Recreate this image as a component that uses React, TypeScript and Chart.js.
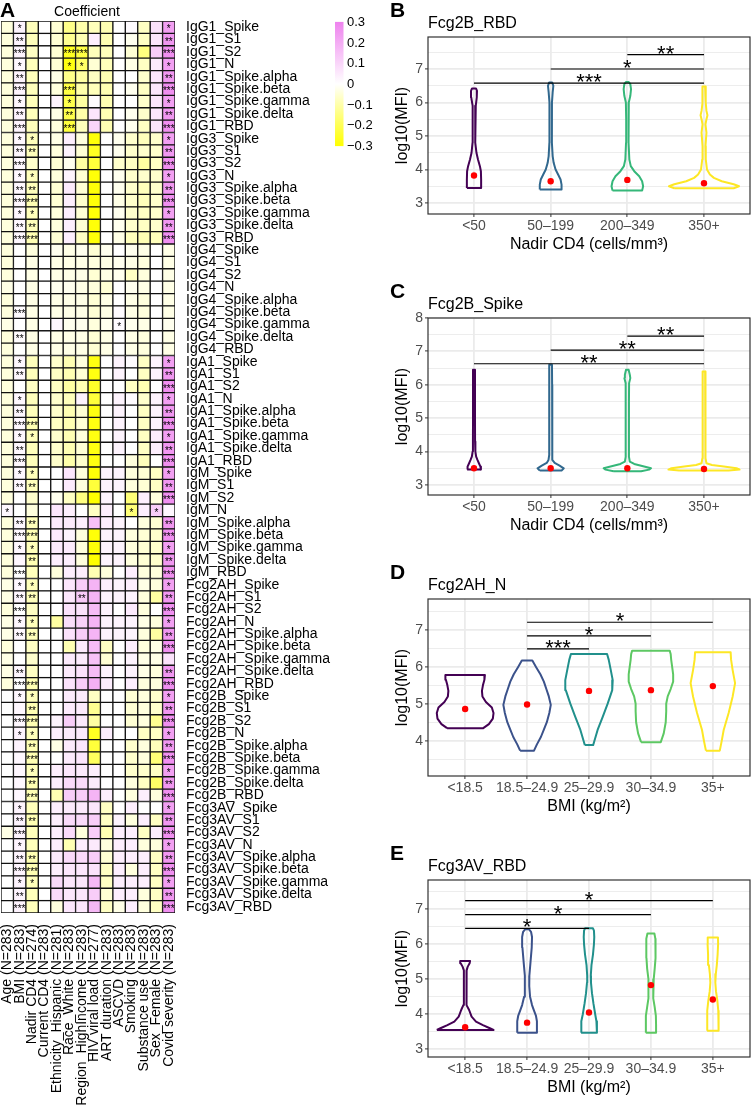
import React, { useEffect, useRef } from "react";
import { Chart, registerables } from "chart.js";
Chart.register(...registerables);

const FONT = "'Liberation Sans', Arial, Helvetica, sans-serif";

// ---------------- Panel A (heatmap) data ----------------
const heatColumns = [
  "Age (N=283)", "BMI (N=283)", "Nadir CD4 (N=274)", "Current CD4 (N=283)",
  "Ethnicity_Hispanic (N=281)", "Race_White (N=283)", "Region_HighIncome (N=283)",
  "HIV viral load (N=277)", "ART duration (N=283)", "ASCVD (N=283)", "Smoking (N=283)",
  "Substance use (N=283)", "Sex_Female (N=283)", "Covid severity (N=283)",
];
const isotypes = ["IgG1", "IgG3", "IgG4", "IgA1", "IgM", "Fcg2AH", "Fcg2B", "Fcg3AV"];
const antigens = ["Spike", "S1", "S2", "N", "Spike.alpha", "Spike.beta", "Spike.gamma", "Spike.delta", "RBD"];

const coefIgG1 = [
  [-0.04, 0.03, -0.08, 0, -0.05, -0.14, -0.1, -0.08, -0.09, 0, 0.01, -0.07, 0.07, 0.23],
  [-0.04, 0.03, -0.08, 0, -0.05, -0.13, -0.09, 0.04, -0.09, 0, -0.02, -0.07, 0.06, 0.25],
  [-0.04, 0.03, -0.07, 0, -0.05, -0.26, -0.22, -0.08, -0.08, 0, -0.05, -0.15, 0.12, 0.27],
  [-0.04, 0.02, -0.08, 0, -0.05, -0.28, -0.18, -0.05, -0.08, 0, -0.03, -0.07, 0.05, 0.23],
  [-0.04, 0.03, -0.08, 0, -0.03, -0.14, -0.11, -0.07, -0.09, 0, 0, -0.06, 0.06, 0.25],
  [-0.04, 0.03, -0.08, 0, -0.04, -0.22, -0.1, -0.08, -0.09, 0, -0.02, -0.07, 0.06, 0.27],
  [-0.04, 0.02, -0.08, 0, 0.03, -0.21, -0.11, 0.01, -0.09, 0, 0, -0.06, 0.06, 0.23],
  [-0.04, 0.03, -0.08, 0, -0.03, -0.21, -0.1, 0.06, -0.09, 0, -0.02, -0.06, 0.06, 0.25],
  [-0.04, 0.03, -0.08, 0, -0.04, -0.23, -0.08, 0.1, -0.09, 0, -0.02, -0.07, 0.06, 0.27],
];
const coefIgG3 = [
  [-0.04, 0.02, -0.08, 0, -0.03, 0.04, -0.04, -0.29, 0, -0.02, -0.06, -0.08, -0.06, 0.23],
  [-0.04, 0.02, -0.08, 0, -0.04, 0.03, -0.05, -0.26, 0, -0.02, -0.06, -0.06, -0.06, 0.25],
  [-0.04, 0.02, -0.06, 0, -0.05, -0.02, -0.11, -0.23, 0, -0.06, -0.07, -0.11, -0.07, 0.27],
  [-0.04, 0.02, -0.08, 0, -0.04, 0.03, -0.05, -0.29, 0, -0.02, -0.06, -0.06, -0.06, 0.23],
  [-0.04, 0.02, -0.08, 0, -0.05, 0.05, -0.05, -0.29, 0, -0.02, -0.06, -0.08, -0.06, 0.25],
  [-0.04, 0.02, -0.09, 0, -0.05, 0.04, -0.06, -0.29, 0, -0.03, -0.06, -0.08, -0.06, 0.27],
  [-0.04, 0.02, -0.08, 0, -0.04, 0.04, -0.05, -0.29, 0, -0.02, -0.06, -0.07, -0.06, 0.23],
  [-0.04, 0.02, -0.08, 0, -0.04, 0.04, -0.05, -0.29, 0, -0.02, -0.06, -0.07, -0.06, 0.25],
  [-0.04, 0.02, -0.09, 0, -0.05, 0.04, -0.07, -0.29, 0, -0.03, -0.08, -0.09, -0.08, 0.27],
];
const coefIgG4 = [
  [-0.04, 0, -0.04, 0, -0.02, -0.03, -0.02, -0.05, -0.02, 0, -0.02, -0.03, 0, -0.03],
  [-0.04, 0, -0.03, 0, -0.03, -0.03, -0.03, -0.04, -0.03, -0.02, -0.03, -0.04, 0, -0.03],
  [-0.04, 0, -0.03, 0, -0.03, -0.03, -0.03, -0.05, -0.03, -0.02, -0.07, -0.04, 0, -0.03],
  [-0.03, 0, -0.03, 0, -0.02, -0.02, -0.03, -0.04, -0.05, 0, -0.02, -0.03, 0, -0.03],
  [-0.04, 0, -0.03, 0, -0.03, -0.03, -0.03, -0.05, -0.03, 0, -0.03, -0.04, 0, -0.03],
  [-0.04, 0.01, -0.03, 0, -0.03, -0.03, -0.03, -0.05, -0.03, 0.01, -0.03, -0.04, 0, -0.03],
  [-0.03, 0, -0.03, 0, 0.02, -0.02, -0.02, -0.04, -0.02, 0.01, -0.02, -0.03, 0, -0.02],
  [-0.04, 0.01, -0.03, 0, -0.03, -0.03, -0.03, -0.05, -0.03, 0, -0.03, -0.04, 0, -0.03],
  [-0.04, 0, -0.03, 0, -0.03, -0.03, -0.03, -0.05, -0.03, 0, -0.03, -0.04, 0, -0.03],
];
const coefIgA1 = [
  [-0.04, 0.02, -0.08, 0, -0.06, -0.09, -0.04, -0.28, 0, 0.03, 0.01, -0.07, 0.03, 0.23],
  [-0.04, 0.02, -0.08, 0, -0.07, -0.09, -0.05, -0.28, 0, 0.03, 0, -0.07, 0.03, 0.25],
  [-0.04, 0, -0.07, 0, -0.07, -0.11, -0.09, -0.25, 0, 0, -0.07, -0.09, 0, 0.27],
  [-0.04, 0.02, -0.08, 0, -0.06, -0.08, 0.03, -0.23, 0, 0.03, 0.01, -0.06, 0.03, 0.23],
  [-0.04, 0.02, -0.08, 0, -0.06, -0.09, -0.05, -0.28, 0, 0.03, 0, -0.07, 0.03, 0.25],
  [-0.04, 0.02, -0.09, 0, -0.07, -0.09, -0.05, -0.28, 0, 0.03, 0, -0.07, 0.03, 0.27],
  [-0.04, 0.02, -0.08, 0, -0.06, -0.09, -0.04, -0.28, 0, 0.03, 0, -0.07, 0.04, 0.23],
  [-0.04, 0.02, -0.08, 0, -0.06, -0.09, -0.05, -0.28, 0, 0.03, 0, -0.07, 0.04, 0.25],
  [-0.04, 0.02, -0.08, 0, -0.06, -0.1, -0.06, -0.28, 0, 0, -0.04, -0.08, 0, 0.27],
];
const coefIgM = [
  [-0.04, 0.02, -0.08, 0, 0, 0.06, -0.04, -0.29, 0.03, 0.03, -0.04, -0.05, -0.07, 0.23],
  [-0.04, 0.02, -0.08, 0, 0, 0.05, -0.04, -0.23, 0.03, 0.03, -0.04, -0.05, -0.07, 0.25],
  [-0.04, 0, -0.06, 0, -0.02, -0.07, -0.15, -0.3, 0.03, 0, -0.16, 0.04, -0.04, 0.27],
  [0.02, 0, -0.04, 0, 0.06, 0.04, 0, -0.07, 0.04, 0, -0.16, 0.04, 0.12, 0.02],
  [-0.04, 0.02, -0.08, 0, 0.05, 0.05, 0.04, 0.15, 0.04, 0.03, 0, -0.04, -0.05, 0.25],
  [-0.04, 0.02, -0.09, 0, 0.05, 0.03, -0.04, -0.29, 0.03, 0.03, -0.04, -0.05, -0.06, 0.27],
  [-0.04, 0.02, -0.08, 0, 0.05, 0.05, -0.04, -0.29, 0.03, 0.03, -0.04, -0.05, -0.06, 0.23],
  [-0.04, 0.02, -0.09, 0, 0.04, 0.04, -0.04, -0.3, 0.03, 0.03, -0.04, -0.05, -0.06, 0.25],
  [-0.04, 0, -0.08, 0, -0.04, 0.04, 0.04, -0.09, -0.04, 0, 0.04, -0.04, -0.04, 0.27],
];
const coefFcg2AH = [
  [-0.03, 0.02, -0.08, 0, 0, 0.06, 0.12, 0.18, 0.04, 0.03, 0.04, -0.03, -0.04, 0.23],
  [-0.03, 0.02, -0.08, 0, 0, 0.06, 0.13, 0.18, 0.03, 0.03, 0.03, -0.04, -0.11, 0.25],
  [-0.04, 0, -0.07, 0, 0, 0.07, 0.07, 0.16, 0.03, 0, 0.05, -0.04, 0, 0.27],
  [-0.03, 0.02, -0.08, 0, -0.11, 0.08, 0.11, 0.18, 0.03, 0.03, 0.03, -0.03, -0.04, 0.23],
  [-0.03, 0.02, -0.08, 0, 0, 0.07, 0.12, 0.18, 0.03, 0.03, 0.03, -0.04, -0.11, 0.25],
  [-0.04, 0, -0.07, 0, 0, -0.09, 0.05, 0.16, -0.07, 0, 0.04, -0.04, -0.03, 0.27],
  [-0.03, 0, -0.06, 0, 0, 0.05, 0.05, 0.15, -0.05, 0, 0.03, -0.03, -0.03, 0.07],
  [-0.03, 0.02, -0.07, 0, 0, 0.05, 0.07, 0.16, 0.03, 0, 0.03, -0.03, -0.04, 0.25],
  [-0.04, 0, -0.09, 0, 0, 0.07, 0.12, 0.19, 0.04, 0, 0.04, -0.04, -0.04, 0.27],
];
const coefFcg2B = [
  [0, 0.02, -0.08, 0, 0, 0.05, 0.05, -0.07, 0, 0, -0.05, -0.04, -0.06, 0.23],
  [0, 0.02, -0.09, 0, 0, 0.05, 0.05, -0.13, 0, 0, -0.05, -0.04, -0.06, 0.25],
  [0, 0.02, -0.09, 0, 0.03, 0.12, 0.05, -0.11, 0, 0, -0.05, -0.04, -0.13, 0.27],
  [0, 0.03, -0.08, 0, 0.04, 0.05, 0.05, -0.26, 0.04, 0, 0, -0.07, -0.07, 0.23],
  [0, 0.03, -0.09, 0, -0.03, 0.05, 0.06, -0.23, 0, 0, -0.06, -0.04, -0.08, 0.25],
  [0, 0.02, -0.09, 0, 0, 0.05, 0.06, -0.19, 0, 0, -0.06, -0.04, -0.16, 0.27],
  [0, 0.02, -0.08, 0, 0.04, 0.06, 0.05, 0.04, 0, 0, -0.06, -0.06, -0.07, 0.23],
  [0, 0.02, -0.09, 0, 0.04, 0.09, 0.09, 0.05, 0, 0, -0.04, -0.07, -0.18, 0.25],
  [0, 0.02, -0.09, 0, -0.09, 0.12, 0.12, 0.18, 0.04, 0, -0.04, 0.04, -0.04, 0.27],
];
const coefFcg3AV = [
  [0, 0.03, -0.08, 0, 0.04, 0.05, 0.05, 0.06, -0.07, 0, 0.04, 0, 0, 0.23],
  [0, 0.03, -0.09, 0, 0.04, 0.09, 0.09, 0.12, -0.07, 0.03, -0.04, 0.04, -0.07, 0.25],
  [-0.03, 0.03, -0.08, 0, 0.04, 0.09, -0.04, 0.12, -0.09, 0.04, 0.04, -0.07, 0.04, 0.27],
  [0, 0.03, -0.08, 0, 0.04, -0.09, 0.04, 0.05, -0.04, 0.04, 0.04, -0.04, -0.04, 0.23],
  [0, 0.03, -0.09, 0, 0.05, 0.09, 0.09, 0.12, -0.05, 0.04, 0.04, 0.04, -0.07, 0.25],
  [0, 0.03, -0.09, 0, 0.04, 0.06, 0.06, 0.07, -0.07, 0.04, -0.04, 0.04, -0.07, 0.27],
  [0, 0.03, -0.08, 0, 0.09, 0.06, 0.06, 0.17, -0.07, 0.04, 0.04, 0.04, -0.07, 0.23],
  [0, 0.03, -0.08, 0, 0.09, 0.06, 0.06, 0.12, -0.05, 0.04, 0.04, -0.04, -0.07, 0.25],
  [0, 0.03, -0.08, 0, -0.04, 0.06, 0.06, 0.17, -0.07, -0.03, 0.04, -0.04, -0.07, 0.27],
];

// number of significance stars per cell (one digit per column)
const starsIgG1 = ["01000000000001", "02000000000002", "03000330000003", "01000110000001", "02000000000002", "03000300000003", "01000100000001", "02000200000002", "03000300000003"];
const starsIgG3 = ["01100000000001", "02200000000002", "03000000000003", "01100000000001", "02200000000002", "03300000000003", "01100000000001", "02200000000002", "03300000000003"];
const starsIgG4 = ["00000000000000", "00000000000000", "00000000000000", "00000000000000", "00000000000000", "03000000000000", "00000000010000", "02000000000000", "00000000000000"];
const starsIgA1 = ["01000000000001", "02000000000002", "00000000000003", "01000000000001", "02000000000002", "03300000000003", "01100000000001", "02000000000002", "03000000000003"];
const starsIgM = ["01100000000001", "02200000000002", "00000000000003", "10000000001010", "02200000000002", "03300000000003", "01100000000001", "00200000000002", "03000000000003"];
const starsFcg2AH = ["01100000000001", "02200020000002", "03000000000003", "01100000000001", "02200000000002", "00000000000003", "00000000000000", "02000000000002", "03300000000003"];
const starsFcg2B = ["01100000000001", "00200000000002", "03300000000003", "01100000000001", "00200000000002", "00300000000003", "00100000000001", "00200000000002", "00300000000003"];
const starsFcg3AV = ["01000000000001", "02200000000002", "03000000000003", "01000000000001", "02200000000002", "03300000000003", "01100000000001", "02000000000002", "03000000000003"];

const legendTicks = [0.3, 0.2, 0.1, 0, -0.1, -0.2, -0.3];
const legendLabels = ["0.3", "0.2", "0.1", "0", "\u22120.1", "\u22120.2", "\u22120.3"];

const heatRows = isotypes.flatMap((iso) => antigens.map((a) => `${iso}_${a}`));
const coefRows = [...coefIgG1, ...coefIgG3, ...coefIgG4, ...coefIgA1, ...coefIgM, ...coefFcg2AH, ...coefFcg2B, ...coefFcg3AV];
const starRows = [...starsIgG1, ...starsIgG3, ...starsIgG4, ...starsIgA1, ...starsIgM, ...starsFcg2AH, ...starsFcg2B, ...starsFcg3AV];

// ---------------- Violin panels data ----------------
const cd4Cats = ["<50", "50\u2013199", "200\u2013349", "350+"];
const bmiCats = ["<18.5", "18.5\u201324.9", "25\u201329.9", "30\u201334.9", "35+"];
const viridis4 = ["#440154", "#31688E", "#35B779", "#FDE725"];
const viridis5 = ["#440154", "#3B528B", "#21908C", "#5DC863", "#FDE725"];
const yGridValues = [2.5, 3, 3.5, 4, 4.5, 5, 5.5, 6, 6.5, 7, 7.5, 8];

// B: Fcg2B_RBD by nadir CD4 (violin y-levels and half-widths in x-units)
const bViolinY = [
  [3.45, 3.7, 3.95, 4.1, 4.3, 4.5, 4.8, 5.2, 5.6, 5.9, 6.15, 6.35, 6.42],
  [3.4, 3.55, 3.7, 3.85, 4.0, 4.2, 4.4, 4.8, 5.4, 6.0, 6.3, 6.5, 6.6],
  [3.37, 3.5, 3.65, 3.8, 3.95, 4.1, 4.3, 4.8, 5.5, 6.0, 6.2, 6.4, 6.55, 6.61],
  [3.44, 3.5, 3.56, 3.65, 3.75, 3.85, 4.0, 4.3, 4.7, 5.1, 5.35, 5.5, 5.62, 5.75, 6.0, 6.3, 6.48],
];
const bViolinW = [
  [0.093, 0.093, 0.09, 0.077, 0.052, 0.032, 0.019, 0.015, 0.015, 0.023, 0.036, 0.039, 0.026],
  [0.142, 0.142, 0.129, 0.097, 0.064, 0.039, 0.026, 0.017, 0.015, 0.017, 0.026, 0.035, 0.019],
  [0.193, 0.206, 0.193, 0.155, 0.09, 0.045, 0.026, 0.017, 0.015, 0.019, 0.039, 0.048, 0.039, 0.019],
  [0.387, 0.457, 0.387, 0.232, 0.129, 0.077, 0.039, 0.023, 0.019, 0.032, 0.019, 0.032, 0.045, 0.032, 0.019, 0.026, 0.015],
];
const bMeans = [3.82, 3.65, 3.69, 3.59];
const bSigFrom = [2, 1, 0];
const bSigTo = [3, 3, 3];
const bSigY = [7.43, 7.0, 6.58];
const bSigLabel = ["**", "*", "***"];

// C: Fcg2B_Spike by nadir CD4
const cViolinY = [
  [3.46, 3.55, 3.65, 3.75, 3.85, 4.0, 4.3, 5.0, 6.0, 6.45],
  [3.43, 3.5, 3.58, 3.66, 3.75, 3.9, 4.3, 5.0, 5.5, 6.0, 6.6],
  [3.41, 3.46, 3.5, 3.56, 3.63, 3.7, 3.85, 4.5, 5.5, 6.05, 6.2, 6.3, 6.45],
  [3.43, 3.46, 3.5, 3.55, 3.6, 3.65, 3.8, 4.5, 5.5, 6.2, 6.4],
];
const cViolinW = [
  [0.09, 0.084, 0.064, 0.045, 0.028, 0.018, 0.014, 0.013, 0.013, 0.013],
  [0.142, 0.171, 0.116, 0.052, 0.028, 0.019, 0.019, 0.019, 0.021, 0.019, 0.017],
  [0.18, 0.284, 0.309, 0.206, 0.09, 0.032, 0.021, 0.021, 0.021, 0.023, 0.039, 0.032, 0.017],
  [0.322, 0.464, 0.425, 0.258, 0.103, 0.032, 0.021, 0.019, 0.019, 0.019, 0.015],
];
const cMeans = [3.5, 3.5, 3.5, 3.48];
const cSigFrom = [2, 1, 0];
const cSigTo = [3, 3, 3];
const cSigY = [7.46, 7.04, 6.63];
const cSigLabel = ["**", "**", "**"];

// D: Fcg2AH_N by BMI
const dViolinY = [
  [4.34, 4.45, 4.6, 4.75, 4.9, 5.05, 5.2, 5.35, 5.5, 5.65, 5.78],
  [3.73, 3.9, 4.1, 4.3, 4.5, 4.75, 4.97, 5.2, 5.4, 5.6, 5.8, 6.0, 6.17],
  [3.88, 4.0, 4.29, 4.65, 5.01, 5.37, 5.64, 5.92, 6.19, 6.35],
  [3.96, 4.2, 4.5, 4.8, 5.0, 5.2, 5.4, 5.6, 5.8, 6.0, 6.2, 6.35, 6.44],
  [3.73, 4.0, 4.29, 4.75, 5.19, 5.56, 5.92, 6.19, 6.4],
];
const dViolinW = [
  [0.292, 0.383, 0.447, 0.458, 0.431, 0.335, 0.279, 0.271, 0.287, 0.311, 0.319],
  [0.112, 0.159, 0.223, 0.271, 0.319, 0.359, 0.383, 0.351, 0.311, 0.271, 0.215, 0.144, 0.085],
  [0.067, 0.088, 0.139, 0.223, 0.303, 0.375, 0.383, 0.351, 0.319, 0.292],
  [0.159, 0.207, 0.239, 0.247, 0.247, 0.271, 0.319, 0.359, 0.359, 0.343, 0.327, 0.319, 0.303],
  [0.112, 0.144, 0.175, 0.255, 0.319, 0.359, 0.319, 0.295, 0.287],
];
const dMeans = [4.86, 4.98, 5.35, 5.37, 5.48];
const dSigFrom = [1, 1, 1];
const dSigTo = [2, 3, 4];
const dSigY = [6.49, 6.84, 7.21];
const dSigLabel = ["***", "*", "*"];

// E: Fcg3AV_RBD by BMI
const eViolinY = [
  [3.55, 3.6, 3.69, 3.79, 3.93, 4.12, 4.26, 4.5, 5.0, 5.25, 5.35, 5.45, 5.52],
  [3.47, 3.6, 3.8, 3.95, 4.1, 4.26, 4.5, 4.8, 5.1, 5.5, 5.9, 6.2, 6.35, 6.42],
  [3.47, 3.6, 3.8, 4.0, 4.3, 4.6, 4.9, 5.1, 5.4, 5.7, 6.0, 6.2, 6.38, 6.45],
  [3.47, 3.7, 3.95, 4.2, 4.45, 4.7, 5.0, 5.3, 5.6, 5.9, 6.15, 6.3],
  [3.53, 3.8, 4.1, 4.4, 4.65, 4.9, 5.15, 5.4, 5.7, 6.0, 6.19],
];
const eViolinW = [
  [0.458, 0.399, 0.287, 0.175, 0.104, 0.064, 0.029, 0.019, 0.019, 0.024, 0.04, 0.072, 0.08],
  [0.159, 0.159, 0.159, 0.144, 0.112, 0.08, 0.048, 0.035, 0.037, 0.056, 0.075, 0.08, 0.064, 0.032],
  [0.128, 0.128, 0.12, 0.1, 0.072, 0.048, 0.032, 0.029, 0.04, 0.064, 0.08, 0.085, 0.08, 0.064],
  [0.083, 0.083, 0.08, 0.061, 0.04, 0.035, 0.045, 0.061, 0.072, 0.077, 0.072, 0.056],
  [0.093, 0.093, 0.088, 0.072, 0.051, 0.04, 0.048, 0.064, 0.077, 0.085, 0.083],
];
const eMeans = [3.63, 3.76, 4.05, 4.83, 4.42];
const eSigFrom = [0, 0, 0];
const eSigTo = [2, 3, 4];
const eSigY = [6.45, 6.84, 7.24];
const eSigLabel = ["*", "*", "*"];

// ---------------- helpers ----------------
function heatColor(v: number): string {
  const t = Math.max(-1, Math.min(1, v / 0.3));
  if (t < 0) {
    const b = Math.round(255 * (1 + t));
    return `rgb(255,255,${b})`;
  }
  const r = Math.round(255 - 17 * t);
  const g = Math.round(255 - 125 * t);
  return `rgb(${r},${g},${r})`;
}

function buildHeatConfig(): any {
  const datasets = heatColumns.map((col, j) => ({
    label: col,
    data: coefRows.map(() => [j, j + 1]),
    backgroundColor: coefRows.map((r) => heatColor(r[j])),
    borderColor: "#111",
    borderWidth: 1,
    borderSkipped: false,
    grouped: false,
    barPercentage: 1,
    categoryPercentage: 1,
  }));
  const legendY = (v: number) => 84 - v * 207;
  const plugin = {
    id: "heatExtras",
    afterDatasetsDraw(chart: any) {
      const { ctx } = chart;
      const xs = chart.scales.x;
      const ys = chart.scales.y;
      ctx.save();
      ctx.fillStyle = "#000";
      ctx.font = `10px ${FONT}`;
      ctx.textAlign = "center";
      ctx.textBaseline = "middle";
      starRows.forEach((s, r) => {
        for (let j = 0; j < s.length; j++) {
          const n = +s[j];
          if (n > 0) ctx.fillText("*".repeat(n), xs.getPixelForValue(j + 0.5), ys.getPixelForValue(r) + 2.5);
        }
      });
      ctx.restore();
    },
    afterDraw(chart: any) {
      const { ctx } = chart;
      ctx.save();
      ctx.fillStyle = "#000";
      ctx.textBaseline = "alphabetic";
      ctx.textAlign = "left";
      ctx.font = `bold 21px ${FONT}`;
      ctx.fillText("A", 0, 17);
      ctx.font = `14px ${FONT}`;
      ctx.textAlign = "center";
      ctx.fillText("Coefficient", 87, 16);
      // colour key
      const top = legendY(legendTicks[0]);
      const bot = legendY(legendTicks[legendTicks.length - 1]);
      const grad = ctx.createLinearGradient(0, top, 0, bot);
      for (let k = 0; k <= 20; k++) {
        const v = 0.3 - (0.6 * k) / 20;
        grad.addColorStop(k / 20, heatColor(v));
      }
      ctx.fillStyle = grad;
      ctx.fillRect(335, top, 8.5, bot - top);
      ctx.fillStyle = "#000";
      ctx.font = `13px ${FONT}`;
      ctx.textAlign = "left";
      ctx.textBaseline = "middle";
      legendTicks.forEach((v, i) => ctx.fillText(legendLabels[i], 347, legendY(v) + 0.5));
      ctx.restore();
    },
  };
  return {
    type: "bar",
    data: { labels: heatRows, datasets },
    options: {
      indexAxis: "y",
      responsive: false,
      animation: false,
      devicePixelRatio: 1,
      layout: { padding: { left: 1, top: 21, right: 0, bottom: 0 } },
      plugins: { legend: { display: false }, tooltip: { enabled: false } },
      scales: {
        x: {
          type: "linear",
          min: 0,
          max: heatColumns.length,
          position: "bottom",
          afterBuildTicks: (s: any) => {
            s.ticks = heatColumns.map((_, i) => ({ value: i + 0.5 }));
          },
          afterFit: (s: any) => {
            s.height = 1107 - 913;
          },
          grid: { display: false },
          border: { display: false },
          ticks: {
            autoSkip: false,
            minRotation: 90,
            maxRotation: 90,
            padding: 3,
            color: "#000",
            font: { family: FONT, size: 14 },
            callback: (_v: any, i: number) => heatColumns[i],
          },
        },
        y: {
          type: "category",
          position: "right",
          offset: true,
          afterFit: (s: any) => {
            s.width = 380 - 175;
          },
          grid: { display: false },
          border: { display: false },
          ticks: {
            autoSkip: false,
            padding: 3,
            color: "#000",
            font: { family: FONT, size: 14 },
          },
        },
      },
    },
    plugins: [plugin],
  };
}

function violinOutline(center: number, ys: number[], hw: number[]) {
  const left = ys.map((y, k) => ({ x: center - hw[k], y }));
  const right = ys.map((y, k) => ({ x: center + hw[k], y })).reverse();
  return [...left, ...right, left[0]];
}

type PanelSpec = {
  letter: string;
  title: string;
  cats: string[];
  colors: string[];
  vy: number[][];
  vw: number[][];
  means: number[];
  sigFrom: number[];
  sigTo: number[];
  sigY: number[];
  sigLabel: string[];
  yMin: number;
  yMax: number;
  xTitle: string;
  height: number;
};

const PLOT_LEFT = 58;
const PLOT_TOP = 37;
const PLOT_BOTTOM = 214;
const PAD_LEFT = 10;

function buildViolinConfig(p: PanelSpec): any {
  const datasets: any[] = [];
  datasets.push({
    label: "mean",
    data: p.means.map((m, i) => ({ x: i, y: m })),
    pointRadius: 3.2,
    pointBackgroundColor: "#FF0000",
    pointBorderWidth: 0,
    showLine: false,
    order: 0,
  });
  p.sigY.forEach((yv, k) => {
    datasets.push({
      label: "sig" + k,
      data: [
        { x: p.sigFrom[k], y: yv },
        { x: p.sigTo[k], y: yv },
      ],
      showLine: true,
      borderColor: "#000",
      borderWidth: 1.2,
      pointRadius: 0,
      order: 1,
    });
  });
  p.vy.forEach((ys, i) => {
    datasets.push({
      label: p.cats[i],
      data: violinOutline(i, ys, p.vw[i]),
      showLine: true,
      borderColor: p.colors[i],
      borderWidth: 2,
      borderJoinStyle: "round",
      pointRadius: 0,
      tension: 0,
      fill: false,
      order: 2,
    });
  });
  const isInt = (v: number) => Math.abs(v - Math.round(v)) < 1e-6;
  const plugin = {
    id: "violinExtras",
    afterDatasetsDraw(chart: any) {
      const { ctx } = chart;
      const xs = chart.scales.x;
      const ysc = chart.scales.y;
      ctx.save();
      ctx.fillStyle = "#000";
      ctx.font = `22px ${FONT}`;
      ctx.textAlign = "center";
      ctx.textBaseline = "alphabetic";
      p.sigY.forEach((yv, k) => {
        const x = xs.getPixelForValue((p.sigFrom[k] + p.sigTo[k]) / 2);
        ctx.fillText(p.sigLabel[k], x, ysc.getPixelForValue(yv) + 6);
      });
      ctx.restore();
    },
    afterDraw(chart: any) {
      const { ctx, chartArea: a } = chart;
      ctx.save();
      ctx.strokeStyle = "#333333";
      ctx.lineWidth = 1.2;
      ctx.strokeRect(a.left, a.top, a.right - a.left, a.bottom - a.top);
      ctx.fillStyle = "#000";
      ctx.textAlign = "left";
      ctx.textBaseline = "alphabetic";
      ctx.font = `bold 21px ${FONT}`;
      ctx.fillText(p.letter, 20, 17);
      ctx.font = `16px ${FONT}`;
      ctx.fillText(p.title, 58, 28);
      ctx.restore();
    },
  };
  return {
    type: "scatter",
    data: { datasets },
    options: {
      responsive: false,
      animation: false,
      devicePixelRatio: 1,
      layout: { padding: { left: PAD_LEFT, top: PLOT_TOP, right: 2, bottom: 0 } },
      plugins: { legend: { display: false }, tooltip: { enabled: false } },
      scales: {
        x: {
          type: "linear",
          min: -0.6,
          max: p.cats.length - 0.4,
          afterBuildTicks: (s: any) => {
            s.ticks = p.cats.map((_, i) => ({ value: i }));
          },
          afterFit: (s: any) => {
            s.height = p.height - PLOT_BOTTOM;
          },
          border: { display: false },
          grid: { color: "#EBEBEB", lineWidth: 1.8, tickLength: 3, tickColor: "#333333", tickWidth: 1 },
          ticks: {
            autoSkip: false,
            maxRotation: 0,
            padding: 1,
            color: "#4D4D4D",
            font: { family: FONT, size: 14 },
            callback: (_v: any, i: number) => p.cats[i],
          },
          title: {
            display: true,
            text: p.xTitle,
            color: "#000",
            font: { family: FONT, size: 16 },
            padding: { top: 0, bottom: p.height - 245 - 9.6 },
          },
        },
        y: {
          type: "linear",
          min: p.yMin,
          max: p.yMax,
          afterBuildTicks: (s: any) => {
            s.ticks = yGridValues.filter((v) => v >= p.yMin - 1e-9 && v <= p.yMax + 1e-9).map((v) => ({ value: v }));
          },
          afterFit: (s: any) => {
            s.width = PLOT_LEFT - PAD_LEFT;
          },
          border: { display: false },
          grid: {
            color: "#EBEBEB",
            lineWidth: (c: any) => (c.tick && isInt(c.tick.value) ? 1.8 : 0.9),
            tickLength: 3,
            tickWidth: 1,
            tickColor: (c: any) => (c.tick && isInt(c.tick.value) ? "#333333" : "rgba(0,0,0,0)"),
          },
          ticks: {
            autoSkip: false,
            padding: 2,
            color: "#4D4D4D",
            font: { family: FONT, size: 14 },
            callback: (v: any) => (isInt(v) ? String(Math.round(v)) : ""),
          },
          title: {
            display: true,
            text: "log10(MFI)",
            color: "#000",
            font: { family: FONT, size: 16 },
            padding: { top: 33 - PAD_LEFT - 9.6, bottom: 0 },
          },
        },
      },
    },
    plugins: [plugin],
  };
}

const panels: PanelSpec[] = [
  { letter: "B", title: "Fcg2B_RBD", cats: cd4Cats, colors: viridis4, vy: bViolinY, vw: bViolinW, means: bMeans, sigFrom: bSigFrom, sigTo: bSigTo, sigY: bSigY, sigLabel: bSigLabel, yMin: 2.672, yMax: 7.955, xTitle: "Nadir CD4 (cells/mm\u00B3)", height: 281 },
  { letter: "C", title: "Fcg2B_Spike", cats: cd4Cats, colors: viridis4, vy: cViolinY, vw: cViolinW, means: cMeans, sigFrom: cSigFrom, sigTo: cSigTo, sigY: cSigY, sigLabel: cSigLabel, yMin: 2.7, yMax: 8.0, xTitle: "Nadir CD4 (cells/mm\u00B3)", height: 281 },
  { letter: "D", title: "Fcg2AH_N", cats: bmiCats, colors: viridis5, vy: dViolinY, vw: dViolinW, means: dMeans, sigFrom: dSigFrom, sigTo: dSigTo, sigY: dSigY, sigLabel: dSigLabel, yMin: 3.043, yMax: 7.84, xTitle: "BMI (kg/m\u00B2)", height: 281 },
  { letter: "E", title: "Fcg3AV_RBD", cats: bmiCats, colors: viridis5, vy: eViolinY, vw: eViolinW, means: eMeans, sigFrom: eSigFrom, sigTo: eSigTo, sigY: eSigY, sigLabel: eSigLabel, yMin: 2.78, yMax: 7.827, xTitle: "BMI (kg/m\u00B2)", height: 264 },
];
const panelTops = [0, 281, 562, 843];

export default function App() {
  const heatRef = useRef<HTMLCanvasElement | null>(null);
  const panelRefs = useRef<(HTMLCanvasElement | null)[]>([]);

  useEffect(() => {
    const charts: Chart[] = [];
    if (heatRef.current) charts.push(new Chart(heatRef.current, buildHeatConfig()));
    panels.forEach((p, i) => {
      const c = panelRefs.current[i];
      if (c) charts.push(new Chart(c, buildViolinConfig(p)));
    });
    return () => charts.forEach((c) => c.destroy());
  }, []);

  return (
    <div style={{ position: "absolute", left: 0, top: 0, width: 754, height: 1107, background: "#fff", overflow: "hidden" }}>
      <canvas ref={heatRef} width={380} height={1107} style={{ position: "absolute", left: 0, top: 0, width: 380, height: 1107 }} />
      {panels.map((p, i) => (
        <canvas
          key={p.letter}
          ref={(el) => {
            panelRefs.current[i] = el;
          }}
          width={384}
          height={p.height}
          style={{ position: "absolute", left: 370, top: panelTops[i], width: 384, height: p.height }}
        />
      ))}
    </div>
  );
}
